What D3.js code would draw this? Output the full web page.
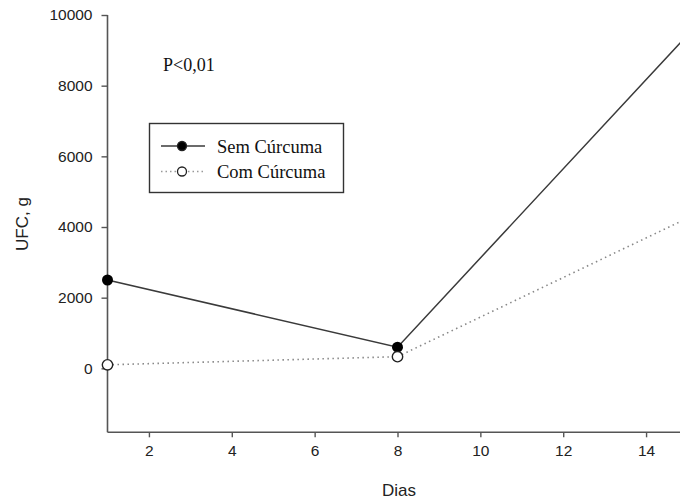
<!DOCTYPE html>
<html>
<head>
<meta charset="utf-8">
<script src="https://cdn.jsdelivr.net/npm/d3@7"></script>
<style>
  body { margin: 0; background: #fff; }
  svg { display: block; }
</style>
</head>
<body>
<svg id="chart"></svg>
<script>
// data
var days = [1, 8, 15];
var semCurcuma = [2500, 600, 9430];
var comCurcuma = [100, 330, 4250];
var xTicks = [2, 4, 6, 8, 10, 12, 14];
var yTicks = [0, 2000, 4000, 6000, 8000, 10000];
var seriesNames = ["Sem Cúrcuma", "Com Cúrcuma"];

var width = 680, height = 503;
var svg = d3.select("#chart").attr("width", width).attr("height", height);

// plot runs off the right edge of the picture (day 15 is cut)
var x = d3.scaleLinear().domain([1, 15]).range([107.5, 687.5]);
var y = d3.scaleLinear().domain([-1810, 10000]).range([432.3, 15]);

var axisColor = "#555";

// y axis
var yAxis = svg.append("g")
  .attr("transform", "translate(" + x(1) + ",0)")
  .call(d3.axisLeft(y).tickValues(yTicks).tickSize(6).tickPadding(9).tickFormat(d3.format("d")));
// bottom axis
var xAxis = svg.append("g")
  .attr("transform", "translate(0," + y(-1810) + ")")
  .call(d3.axisBottom(x).tickValues(xTicks).tickSize(5).tickPadding(8));

[yAxis, xAxis].forEach(function(g) {
  g.select(".domain").attr("stroke", axisColor).attr("stroke-width", 1.6);
  g.selectAll(".tick line").attr("stroke", axisColor).attr("stroke-width", 1.4);
  g.selectAll(".tick text")
    .attr("fill", "#222")
    .style("font-family", "'Liberation Sans', Arial, sans-serif")
    .style("font-size", "15.5px");
});
// the y axis line ends at 10000 on top, the bottom one runs to the edge
yAxis.select(".domain").attr("d", "M0," + y(10000) + "V" + y(-1810));
xAxis.select(".domain").attr("d", "M" + x(1) + ",0H" + width);

// axis titles
svg.append("text")
  .attr("x", 399).attr("y", 496)
  .attr("text-anchor", "middle")
  .style("font-family", "'Liberation Sans', Arial, sans-serif")
  .style("font-size", "17px").attr("fill", "#222")
  .text("Dias");
svg.append("text")
  .attr("transform", "translate(28,224) rotate(-90)")
  .attr("text-anchor", "middle")
  .style("font-family", "'Liberation Sans', Arial, sans-serif")
  .style("font-size", "17px").attr("fill", "#222")
  .text("UFC, g");

// lines
var line = d3.line()
  .x(function(d) { return x(d[0]); })
  .y(function(d) { return y(d[1]); });

var semData = days.map(function(d, i) { return [d, semCurcuma[i]]; });
var comData = days.map(function(d, i) { return [d, comCurcuma[i]]; });

svg.append("path").datum(comData)
  .attr("d", line).attr("fill", "none")
  .attr("stroke", "#888").attr("stroke-width", 1.6)
  .attr("stroke-dasharray", "1.5,3.5");
svg.append("path").datum(semData)
  .attr("d", line).attr("fill", "none")
  .attr("stroke", "#3a3a3a").attr("stroke-width", 1.5);

// markers
svg.selectAll("circle.sem").data(semData).enter().append("circle")
  .attr("class", "sem")
  .attr("cx", function(d) { return x(d[0]); })
  .attr("cy", function(d) { return y(d[1]); })
  .attr("r", 5.5).attr("fill", "#000");
svg.selectAll("circle.com").data(comData).enter().append("circle")
  .attr("class", "com")
  .attr("cx", function(d) { return x(d[0]); })
  .attr("cy", function(d) { return y(d[1]); })
  .attr("r", 5.2).attr("fill", "#fff")
  .attr("stroke", "#222").attr("stroke-width", 1.4);

// P value
svg.append("text")
  .attr("x", 163).attr("y", 70.5)
  .style("font-family", "'Liberation Serif', 'Times New Roman', serif")
  .style("font-size", "18px").attr("fill", "#111")
  .text("P<0,01");

// legend
var legend = svg.append("g");
legend.append("rect")
  .attr("x", 149.5).attr("y", 123.5).attr("width", 194).attr("height", 69)
  .attr("fill", "#fff").attr("stroke", "#333").attr("stroke-width", 1.4);

var rows = [
  { name: seriesNames[0], y: 146, dash: null, stroke: "#3a3a3a", fill: "#000" },
  { name: seriesNames[1], y: 171.5, dash: "1.5,3", stroke: "#999", fill: "#fff" }
];
rows.forEach(function(r) {
  legend.append("line")
    .attr("x1", 161).attr("x2", 205).attr("y1", r.y).attr("y2", r.y)
    .attr("stroke", r.stroke).attr("stroke-width", 1.5)
    .attr("stroke-dasharray", r.dash);
  legend.append("circle")
    .attr("cx", 182).attr("cy", r.y).attr("r", 4.5)
    .attr("fill", r.fill).attr("stroke", "#222").attr("stroke-width", 1.3);
  legend.append("text")
    .attr("x", 217).attr("y", r.y + 6.5)
    .style("font-family", "'Liberation Serif', 'Times New Roman', serif")
    .style("font-size", "18.5px").attr("fill", "#111")
    .text(r.name);
});
</script>
</body>
</html>
